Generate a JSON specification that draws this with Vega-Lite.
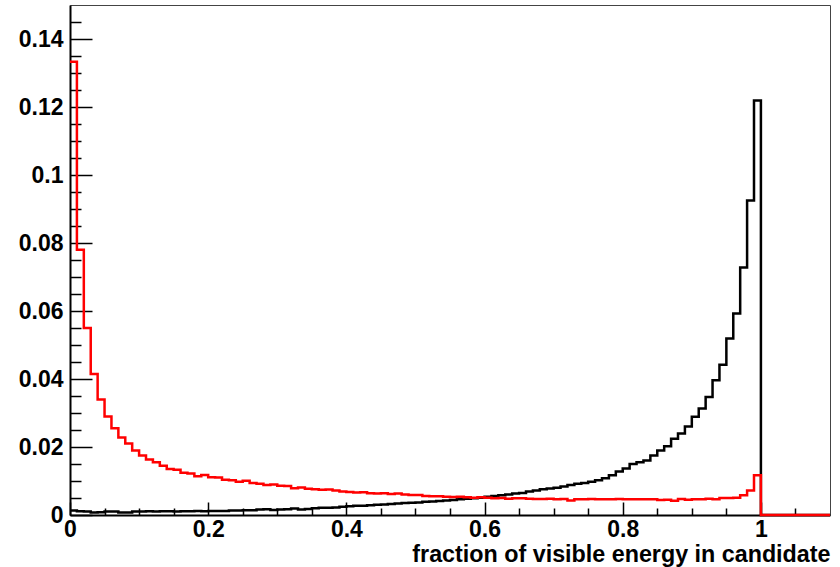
{
 "$schema": "https://vega.github.io/schema/vega-lite/v6.json",
 "width": 760, "height": 510,
 "autosize": {"type": "none"},
 "padding": {"left": 70, "top": 5, "right": 10, "bottom": 52},
 "background": "white",
 "config": {
  "view": {"stroke": "#444", "strokeWidth": 1},
  "axis": {"labelFont": "Liberation Sans", "labelFontWeight": "bold", "labelFontSize": 23, "labelColor": "black",
           "titleFont": "Liberation Sans", "titleFontWeight": "bold", "titleFontSize": 23.3, "titleColor": "black",
           "grid": false, "domainColor": "black", "tickColor": "black", "domainWidth": 2, "tickWidth": 1.5}
 },
 "datasets": {"h": [
{"s":"black","x":0.00,"v":0.0013},{"s":"black","x":0.01,"v":0.0011},{"s":"black","x":0.02,"v":0.0010},{"s":"black","x":0.03,"v":0.0007},{"s":"black","x":0.04,"v":0.0008},
{"s":"black","x":0.05,"v":0.0010},{"s":"black","x":0.06,"v":0.0010},{"s":"black","x":0.07,"v":0.0007},{"s":"black","x":0.08,"v":0.0007},{"s":"black","x":0.09,"v":0.0010},
{"s":"black","x":0.10,"v":0.0010},{"s":"black","x":0.11,"v":0.0011},{"s":"black","x":0.12,"v":0.0010},{"s":"black","x":0.13,"v":0.0011},{"s":"black","x":0.14,"v":0.0011},
{"s":"black","x":0.15,"v":0.0010},{"s":"black","x":0.16,"v":0.0011},{"s":"black","x":0.17,"v":0.0011},{"s":"black","x":0.18,"v":0.0012},{"s":"black","x":0.19,"v":0.0011},
{"s":"black","x":0.20,"v":0.0012},{"s":"black","x":0.21,"v":0.0012},{"s":"black","x":0.22,"v":0.0012},{"s":"black","x":0.23,"v":0.0013},{"s":"black","x":0.24,"v":0.0013},
{"s":"black","x":0.25,"v":0.0014},{"s":"black","x":0.26,"v":0.0014},{"s":"black","x":0.27,"v":0.0016},{"s":"black","x":0.28,"v":0.0017},{"s":"black","x":0.29,"v":0.0015},
{"s":"black","x":0.30,"v":0.0016},{"s":"black","x":0.31,"v":0.0017},{"s":"black","x":0.32,"v":0.0019},{"s":"black","x":0.33,"v":0.0016},{"s":"black","x":0.34,"v":0.0018},
{"s":"black","x":0.35,"v":0.0020},{"s":"black","x":0.36,"v":0.0021},{"s":"black","x":0.37,"v":0.0021},{"s":"black","x":0.38,"v":0.0022},{"s":"black","x":0.39,"v":0.0024},
{"s":"black","x":0.40,"v":0.0026},{"s":"black","x":0.41,"v":0.0027},{"s":"black","x":0.42,"v":0.0027},{"s":"black","x":0.43,"v":0.0029},{"s":"black","x":0.44,"v":0.0030},
{"s":"black","x":0.45,"v":0.0031},{"s":"black","x":0.46,"v":0.0032},{"s":"black","x":0.47,"v":0.0034},{"s":"black","x":0.48,"v":0.0035},{"s":"black","x":0.49,"v":0.0036},
{"s":"black","x":0.50,"v":0.0037},{"s":"black","x":0.51,"v":0.0039},{"s":"black","x":0.52,"v":0.0040},{"s":"black","x":0.53,"v":0.0041},{"s":"black","x":0.54,"v":0.0043},
{"s":"black","x":0.55,"v":0.0044},{"s":"black","x":0.56,"v":0.0046},{"s":"black","x":0.57,"v":0.0048},{"s":"black","x":0.58,"v":0.0049},{"s":"black","x":0.59,"v":0.0051},
{"s":"black","x":0.60,"v":0.0054},{"s":"black","x":0.61,"v":0.0056},{"s":"black","x":0.62,"v":0.0058},{"s":"black","x":0.63,"v":0.0060},{"s":"black","x":0.64,"v":0.0063},
{"s":"black","x":0.65,"v":0.0065},{"s":"black","x":0.66,"v":0.0069},{"s":"black","x":0.67,"v":0.0072},{"s":"black","x":0.68,"v":0.0076},{"s":"black","x":0.69,"v":0.0078},
{"s":"black","x":0.70,"v":0.0080},{"s":"black","x":0.71,"v":0.0084},{"s":"black","x":0.72,"v":0.0088},{"s":"black","x":0.73,"v":0.0092},{"s":"black","x":0.74,"v":0.0094},
{"s":"black","x":0.75,"v":0.0098},{"s":"black","x":0.76,"v":0.0102},{"s":"black","x":0.77,"v":0.0108},{"s":"black","x":0.78,"v":0.0117},{"s":"black","x":0.79,"v":0.0128},
{"s":"black","x":0.80,"v":0.0137},{"s":"black","x":0.81,"v":0.0150},{"s":"black","x":0.82,"v":0.0155},{"s":"black","x":0.83,"v":0.0160},{"s":"black","x":0.84,"v":0.0175},
{"s":"black","x":0.85,"v":0.0190},{"s":"black","x":0.86,"v":0.0202},{"s":"black","x":0.87,"v":0.0224},{"s":"black","x":0.88,"v":0.0240},{"s":"black","x":0.89,"v":0.0260},
{"s":"black","x":0.90,"v":0.0289},{"s":"black","x":0.91,"v":0.0313},{"s":"black","x":0.92,"v":0.0347},{"s":"black","x":0.93,"v":0.0396},{"s":"black","x":0.94,"v":0.0442},
{"s":"black","x":0.95,"v":0.0519},{"s":"black","x":0.96,"v":0.0593},{"s":"black","x":0.97,"v":0.0728},{"s":"black","x":0.98,"v":0.0925},{"s":"black","x":0.99,"v":0.1219},
{"s":"black","x":1.00,"v":0},{"s":"black","x":1.01,"v":0},{"s":"black","x":1.02,"v":0},{"s":"black","x":1.03,"v":0},{"s":"black","x":1.04,"v":0},
{"s":"black","x":1.05,"v":0},{"s":"black","x":1.06,"v":0},{"s":"black","x":1.07,"v":0},{"s":"black","x":1.08,"v":0},{"s":"black","x":1.09,"v":0},
{"s":"black","x":1.10,"v":0},
{"s":"red","x":0.00,"v":0.1333},{"s":"red","x":0.01,"v":0.0780},{"s":"red","x":0.02,"v":0.0550},{"s":"red","x":0.03,"v":0.0415},{"s":"red","x":0.04,"v":0.0340},
{"s":"red","x":0.05,"v":0.0290},{"s":"red","x":0.06,"v":0.0255},{"s":"red","x":0.07,"v":0.0228},{"s":"red","x":0.08,"v":0.0210},{"s":"red","x":0.09,"v":0.0190},
{"s":"red","x":0.10,"v":0.0175},{"s":"red","x":0.11,"v":0.0163},{"s":"red","x":0.12,"v":0.0155},{"s":"red","x":0.13,"v":0.0145},{"s":"red","x":0.14,"v":0.0135},
{"s":"red","x":0.15,"v":0.0133},{"s":"red","x":0.16,"v":0.0124},{"s":"red","x":0.17,"v":0.0122},{"s":"red","x":0.18,"v":0.0114},{"s":"red","x":0.19,"v":0.0118},
{"s":"red","x":0.20,"v":0.0111},{"s":"red","x":0.21,"v":0.0110},{"s":"red","x":0.22,"v":0.0104},{"s":"red","x":0.23,"v":0.0102},{"s":"red","x":0.24,"v":0.0098},
{"s":"red","x":0.25,"v":0.0101},{"s":"red","x":0.26,"v":0.0094},{"s":"red","x":0.27,"v":0.0092},{"s":"red","x":0.28,"v":0.0088},{"s":"red","x":0.29,"v":0.0090},
{"s":"red","x":0.30,"v":0.0086},{"s":"red","x":0.31,"v":0.0085},{"s":"red","x":0.32,"v":0.0079},{"s":"red","x":0.33,"v":0.0081},{"s":"red","x":0.34,"v":0.0077},
{"s":"red","x":0.35,"v":0.0076},{"s":"red","x":0.36,"v":0.0074},{"s":"red","x":0.37,"v":0.0075},{"s":"red","x":0.38,"v":0.0072},{"s":"red","x":0.39,"v":0.0069},
{"s":"red","x":0.40,"v":0.0068},{"s":"red","x":0.41,"v":0.0066},{"s":"red","x":0.42,"v":0.0067},{"s":"red","x":0.43,"v":0.0064},{"s":"red","x":0.44,"v":0.0063},
{"s":"red","x":0.45,"v":0.0064},{"s":"red","x":0.46,"v":0.0062},{"s":"red","x":0.47,"v":0.0063},{"s":"red","x":0.48,"v":0.0060},{"s":"red","x":0.49,"v":0.0059},
{"s":"red","x":0.50,"v":0.0059},{"s":"red","x":0.51,"v":0.0056},{"s":"red","x":0.52,"v":0.0055},{"s":"red","x":0.53,"v":0.0055},{"s":"red","x":0.54,"v":0.0054},
{"s":"red","x":0.55,"v":0.0053},{"s":"red","x":0.56,"v":0.0054},{"s":"red","x":0.57,"v":0.0052},{"s":"red","x":0.58,"v":0.0051},{"s":"red","x":0.59,"v":0.0052},
{"s":"red","x":0.60,"v":0.0051},{"s":"red","x":0.61,"v":0.0049},{"s":"red","x":0.62,"v":0.0050},{"s":"red","x":0.63,"v":0.0048},{"s":"red","x":0.64,"v":0.0049},
{"s":"red","x":0.65,"v":0.0049},{"s":"red","x":0.66,"v":0.0048},{"s":"red","x":0.67,"v":0.0047},{"s":"red","x":0.68,"v":0.0047},{"s":"red","x":0.69,"v":0.0048},
{"s":"red","x":0.70,"v":0.0046},{"s":"red","x":0.71,"v":0.0047},{"s":"red","x":0.72,"v":0.0043},{"s":"red","x":0.73,"v":0.0046},{"s":"red","x":0.74,"v":0.0046},
{"s":"red","x":0.75,"v":0.0047},{"s":"red","x":0.76,"v":0.0046},{"s":"red","x":0.77,"v":0.0046},{"s":"red","x":0.78,"v":0.0046},{"s":"red","x":0.79,"v":0.0047},
{"s":"red","x":0.80,"v":0.0046},{"s":"red","x":0.81,"v":0.0046},{"s":"red","x":0.82,"v":0.0046},{"s":"red","x":0.83,"v":0.0046},{"s":"red","x":0.84,"v":0.0046},
{"s":"red","x":0.85,"v":0.0044},{"s":"red","x":0.86,"v":0.0045},{"s":"red","x":0.87,"v":0.0042},{"s":"red","x":0.88,"v":0.0047},{"s":"red","x":0.89,"v":0.0045},
{"s":"red","x":0.90,"v":0.0046},{"s":"red","x":0.91,"v":0.0046},{"s":"red","x":0.92,"v":0.0048},{"s":"red","x":0.93,"v":0.0046},{"s":"red","x":0.94,"v":0.0050},
{"s":"red","x":0.95,"v":0.0050},{"s":"red","x":0.96,"v":0.0051},{"s":"red","x":0.97,"v":0.0058},{"s":"red","x":0.98,"v":0.0072},{"s":"red","x":0.99,"v":0.0117},
{"s":"red","x":1.00,"v":0},{"s":"red","x":1.01,"v":0},{"s":"red","x":1.02,"v":0},{"s":"red","x":1.03,"v":0},{"s":"red","x":1.04,"v":0},
{"s":"red","x":1.05,"v":0},{"s":"red","x":1.06,"v":0},{"s":"red","x":1.07,"v":0},{"s":"red","x":1.08,"v":0},{"s":"red","x":1.09,"v":0},
{"s":"red","x":1.10,"v":0}
 ]},
 "data": {"name": "h"},
 "layer": [
  {
   "transform": [{"filter": "datum.s === 'black'"}],
   "mark": {"type": "line", "interpolate": "step-after", "color": "black", "strokeWidth": 2.5},
   "encoding": {
    "x": {"field": "x", "type": "quantitative", "scale": {"domain": [0, 1.1], "nice": false, "zero": false},
          "axis": {"orient": "bottom", "values": [0, 0.2, 0.4, 0.6, 0.8, 1], "format": "~g", "tickSize": -13, "labelPadding": 16,
                   "labelFlush": false, "labelOverlap": false,
                   "title": "fraction of visible energy in candidate", "titleAnchor": "end", "titleAlign": "right", "titlePadding": 2}},
    "y": {"field": "v", "type": "quantitative", "scale": {"domain": [0, 0.15], "nice": false},
          "axis": {"orient": "left", "values": [0, 0.02, 0.04, 0.06, 0.08, 0.1, 0.12, 0.14], "format": "~g", "tickSize": -22, "labelPadding": 29,
                   "labelFlush": false, "labelOverlap": false, "title": null}}
   }
  },
  {
   "transform": [{"filter": "datum.s === 'red'"}],
   "mark": {"type": "line", "interpolate": "step-after", "color": "#ff0000", "strokeWidth": 2.5},
   "encoding": {
    "x": {"field": "x", "type": "quantitative",
          "axis": {"orient": "bottom", "values": [0.05, 0.1, 0.15, 0.25, 0.3, 0.35, 0.45, 0.5, 0.55, 0.65, 0.7, 0.75, 0.85, 0.9, 0.95, 1.05],
                   "labels": false, "domain": false, "tickSize": -7, "title": null}},
    "y": {"field": "v", "type": "quantitative",
          "axis": {"orient": "left", "values": [0.005, 0.01, 0.015, 0.025, 0.03, 0.035, 0.045, 0.05, 0.055, 0.065, 0.07, 0.075, 0.085, 0.09, 0.095, 0.105, 0.11, 0.115, 0.125, 0.13, 0.135, 0.145],
                   "labels": false, "domain": false, "tickSize": -11, "title": null}}
   }
  }
 ],
 "resolve": {"axis": {"x": "independent", "y": "independent"}}
}
